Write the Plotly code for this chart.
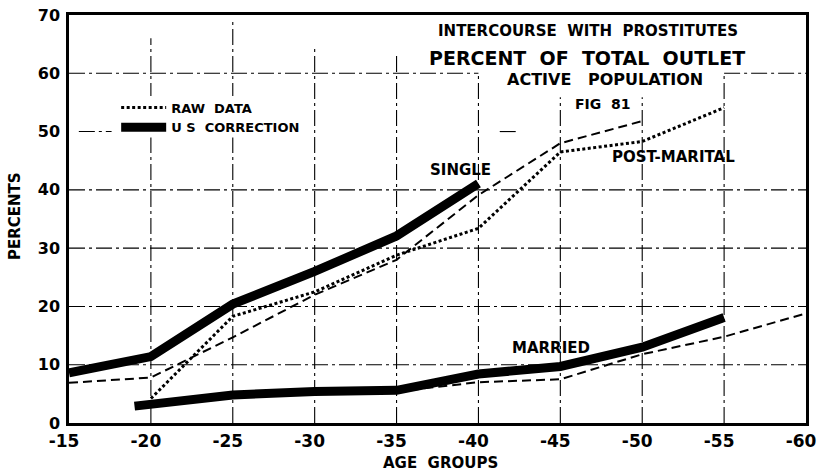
import plotly.graph_objects as go

# Age groups along the x axis (upper bound of each group)
ages = [15, 20, 25, 30, 35, 40, 45, 50, 55, 60]
age_labels = ["-15", "-20", "-25", "-30", "-35", "-40", "-45", "-50", "-55", "-60"]
pct_ticks = [0, 10, 20, 30, 40, 50, 60, 70]

# Single males, U.S. corrected
single_us_ages = [15, 20, 25, 30, 35, 40]
single_us = [8.6, 11.4, 20.4, 26.0, 32.1, 41.1]

# Single males, raw data
single_raw_ages = [15, 20, 25, 30, 35, 40, 45, 50]
single_raw = [6.9, 7.8, 14.7, 22.0, 28.0, 39.1, 48.0, 51.8]

# Post-marital, raw data
postmarital_ages = [20, 25, 30, 35, 40, 45, 50, 55]
postmarital_raw = [4.2, 18.3, 22.5, 28.8, 33.4, 46.5, 48.3, 54.1]

# Married males, U.S. corrected
married_us_ages = [19, 25, 30, 35, 40, 45, 50, 55]
married_us = [2.9, 4.8, 5.4, 5.6, 8.4, 9.7, 13.0, 18.1]

# Married males, raw data
married_raw_ages = [35, 40, 45, 50, 55, 60]
married_raw = [5.4, 7.0, 7.5, 11.8, 14.8, 18.8]

FONT = "DejaVu Sans"
INK = "black"

fig = go.Figure()

fig.add_trace(go.Scatter(
    x=postmarital_ages, y=postmarital_raw, mode="lines", name="RAW  DATA",
    line=dict(color=INK, width=3, dash="3px,2.5px"), legendrank=1,
))
fig.add_trace(go.Scatter(
    x=single_raw_ages, y=single_raw, mode="lines", showlegend=False,
    line=dict(color=INK, width=2, dash="9px,5px"),
))
fig.add_trace(go.Scatter(
    x=married_raw_ages, y=married_raw, mode="lines", showlegend=False,
    line=dict(color=INK, width=2, dash="9px,5px"),
))
fig.add_trace(go.Scatter(
    x=single_us_ages, y=single_us, mode="lines", name="U S  CORRECTION",
    line=dict(color=INK, width=9), legendrank=2,
))
fig.add_trace(go.Scatter(
    x=married_us_ages, y=married_us, mode="lines", showlegend=False,
    line=dict(color=INK, width=9),
))

# Hand-ruled grid: dash-dot rules, each with its own extent
grid_line = dict(color=INK, width=1.1, dash="16px,4px,3px,4px")
h_rules = [(10, 15, 60), (20, 15, 60), (30, 15, 60), (40, 15, 60),
           (50, 15.6, 17.6), (50, 41.3, 42.5),
           (60, 15, 40), (60, 55, 60)]
v_rules = [(20, 66.0), (25, 68.8), (30, 64.3), (35, 63.6),
           (40, 60.0), (45, 55.9), (50, 55.9), (55, 60.0)]
shapes = []
for yv, x0, x1 in h_rules:
    shapes.append(dict(type="line", xref="x", yref="y", x0=x0, x1=x1, y0=yv, y1=yv,
                       line=grid_line, layer="below"))
for xv, top in v_rules:
    shapes.append(dict(type="line", xref="x", yref="y", x0=xv, x1=xv, y0=0, y1=top,
                       line=grid_line, layer="below"))
# Blank panel behind the key
shapes.append(dict(type="rect", xref="x", yref="y", x0=17.8, x1=29.8, y0=49.0, y1=56.1,
                   fillcolor="white", line=dict(width=0), layer="below"))

fig.update_layout(shapes=shapes)

def label(text, x, y, size):
    fig.add_annotation(text=text, x=x, y=y, xref="x", yref="y", showarrow=False,
                       xanchor="center", yanchor="middle",
                       font=dict(family=FONT, size=size, color=INK, weight=700))

label("INTERCOURSE  WITH  PROSTITUTES", 46.7, 67.3, 15)
label("PERCENT  OF  TOTAL  OUTLET", 46.6, 62.7, 19)
label("ACTIVE   POPULATION", 47.7, 58.9, 16)
label("FIG  81", 47.6, 54.8, 14)
label("SINGLE", 38.9, 43.4, 15)
label("POST-MARITAL", 51.9, 45.6, 15)
label("MARRIED", 44.4, 12.8, 15)

# Axis titles, placed relative to the plotting area
fig.add_annotation(text="AGE  GROUPS", xref="paper", yref="paper",
                   x=(440 - 69) / 737, y=(423 - 463) / 408,
                   xanchor="center", yanchor="middle", showarrow=False,
                   font=dict(family=FONT, size=15, color=INK, weight=700))
fig.add_annotation(text="PERCENTS", xref="paper", yref="paper",
                   x=(15 - 69) / 737, y=(423 - 216) / 408,
                   xanchor="center", yanchor="middle", showarrow=False, textangle=-90,
                   font=dict(family=FONT, size=15, color=INK, weight=700))

fig.update_layout(
    width=819, height=471, autosize=False,
    margin=dict(l=69, r=13, t=15, b=48, pad=0, autoexpand=False),
    paper_bgcolor="white", plot_bgcolor="white",
    font=dict(family=FONT, color=INK),
    legend=dict(x=0.064, y=0.81, xanchor="left", yanchor="top",
                bgcolor="rgba(0,0,0,0)", itemwidth=45, tracegroupgap=0,
                font=dict(family=FONT, size=13, color=INK, weight=700)),
    xaxis=dict(range=[15, 60], tickmode="array", tickvals=ages, ticktext=age_labels,
               showgrid=False, zeroline=False, showline=True, mirror=True,
               linecolor=INK, linewidth=2.5, ticks="", ticklabeloverflow="allow",
               ticklabelshift=-5, ticklabelstandoff=1,
               tickfont=dict(family=FONT, size=17, color=INK, weight=700)),
    yaxis=dict(range=[0, 70], tickmode="array", tickvals=pct_ticks,
               showgrid=False, zeroline=False, showline=True, mirror=True,
               linecolor=INK, linewidth=2.5, ticks="", ticklabelstandoff=3,
               tickfont=dict(family=FONT, size=16, color=INK, weight=700)),
)

fig.write_html("out.html")
